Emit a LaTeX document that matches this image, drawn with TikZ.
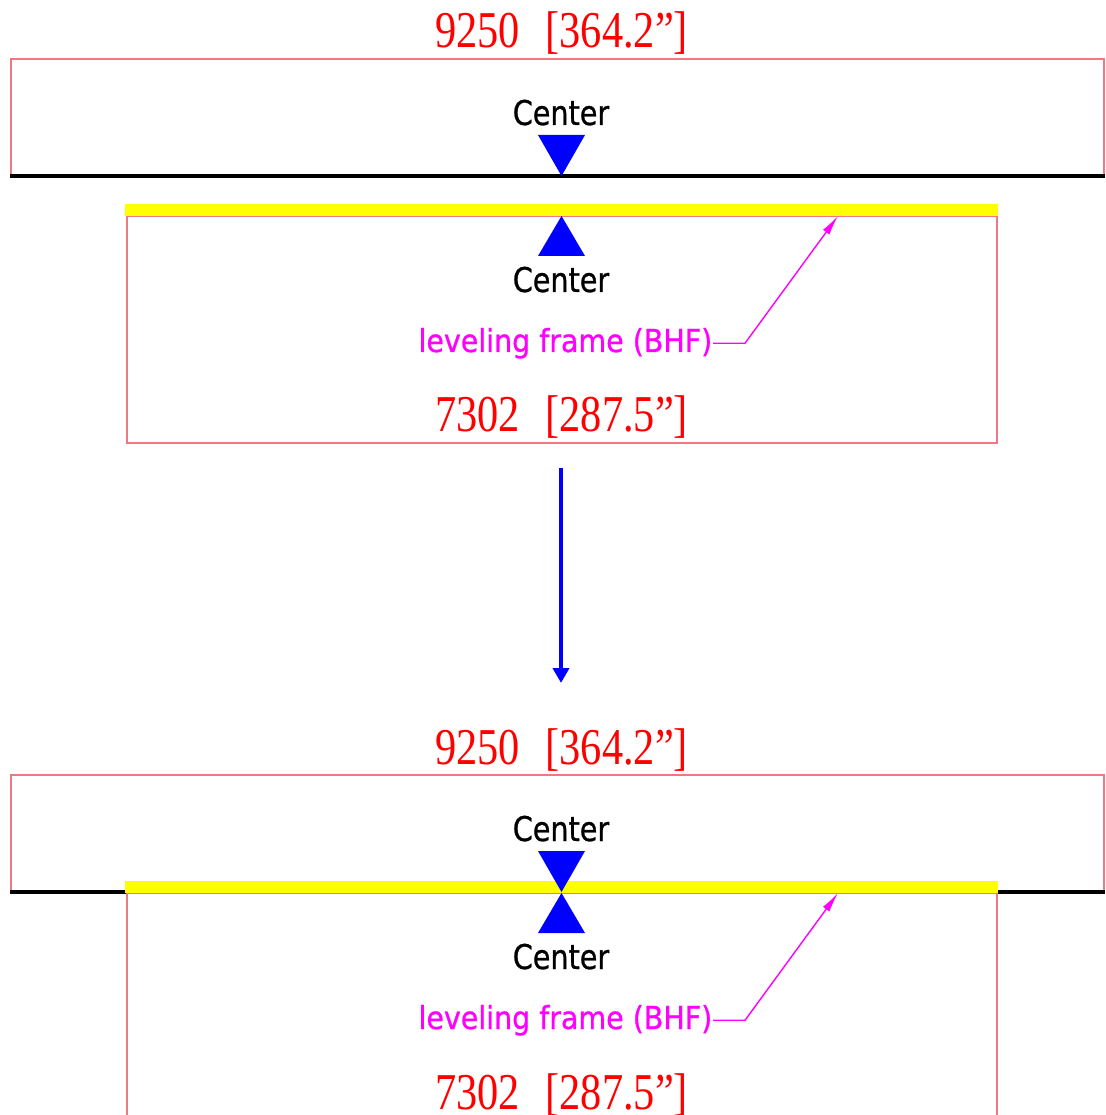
\documentclass[tikz,border=0pt]{standalone}
\usepackage{fontspec}
\usepackage{tikz}
\usetikzlibrary{calc,arrows.meta}
\newfontfamily\dimfont[FakeStretch=0.82]{Liberation Serif}
\newfontfamily\ctrfont[FakeStretch=0.84,FakeBold=0.8]{DejaVu Sans}
\newfontfamily\notefont[FakeStretch=0.9,FakeBold=0.8]{DejaVu Sans}
\definecolor{rimred}{RGB}{240,120,130}
\definecolor{markblue}{RGB}{0,0,255}
\definecolor{notemag}{RGB}{255,0,255}
\definecolor{framey}{RGB}{255,255,0}

\begin{document}
\begin{tikzpicture}[x=1cm,y=-1cm,
	rim/.style={draw=rimred,line width=0.4pt},
	floor/.style={line width=1pt,color=black},
	dimtxt/.style={inner sep=0pt,anchor=base,text=red,font={\dimfont\fontsize{14.7}{16}\selectfont}},
	ctrtxt/.style={inner sep=0pt,anchor=base,font={\ctrfont\fontsize{9.7}{11}\selectfont}},
	notetxt/.style={inner sep=0pt,anchor=base east,text=notemag,font={\notefont\fontsize{9}{10}\selectfont}},
	ctrmark/.style={fill=markblue,draw=none},
	leader/.style={draw=notemag,line width=0.4pt,-{Latex[length=2mm,width=0.8mm]}},
	movearrow/.style={draw=markblue,line width=1.1pt,-{Triangle[length=0.15cm,width=0.16cm]}}]
			%%%%% START %%%%%
			\useasboundingbox (0,0) rectangle (11.05,11.15);
			\clip (0,0) rectangle (11.05,11.15);
			
			% machine side (top and bottom)
			\foreach \dy/\k in {0/a,7.16/b} {
				\begin{scope}[yshift=-\dy cm]
					\draw[rim] (0.11,0.59) rectangle (11.04,1.76);
					\draw[floor] (0.10,1.76) -- (11.05,1.76);
					\node[dimtxt] (dimtop-\k) at (5.615,0.48) {9250\hspace{0.5em}[364.2”]};
					\node[ctrtxt] (ctrtop-\k) at (5.61,1.25) {Center};
				\end{scope}
			}
			
			% leveling frame (top and bottom)
			\foreach \dy/\k in {0/a,6.77/b} {
				\begin{scope}[yshift=-\dy cm]
					\draw[rim] (1.27,2.16) rectangle (9.97,4.43);
					\fill[framey] (1.25,2.04) rectangle (9.98,2.16);
					\node[ctrtxt] (ctrbot-\k) at (5.61,2.92) {Center};
					\node[notetxt] (note-\k) at (7.13,3.52) {leveling frame (BHF)};
					\coordinate (tip-\k) at (8.38,2.16);
					\draw[leader] (note-\k.east) -- ++(0.32,0) -- (tip-\k);
					\node[dimtxt] (dimbot-\k) at (5.615,4.32) {7302\hspace{0.5em}[287.5”]};
				\end{scope}
			}
			
			% center marks
			\fill[ctrmark] (5.38,1.35) -- (5.85,1.35) -- (5.615,1.76) -- cycle;
			\fill[ctrmark] (5.38,2.56) -- (5.85,2.56) -- (5.615,2.16) -- cycle;
			\fill[ctrmark] (5.38,8.51) -- (5.85,8.51) -- (5.615,8.92) -- cycle;
			\fill[ctrmark] (5.38,9.33) -- (5.85,9.33) -- (5.615,8.93) -- cycle;
			
			% move down
			\coordinate (go-from) at (5.61,4.68);
			\coordinate (go-to) at (5.61,6.83);
			\draw[movearrow] (go-from) -- (go-to);
			%%%%% END %%%%%
\end{tikzpicture}
\end{document}
